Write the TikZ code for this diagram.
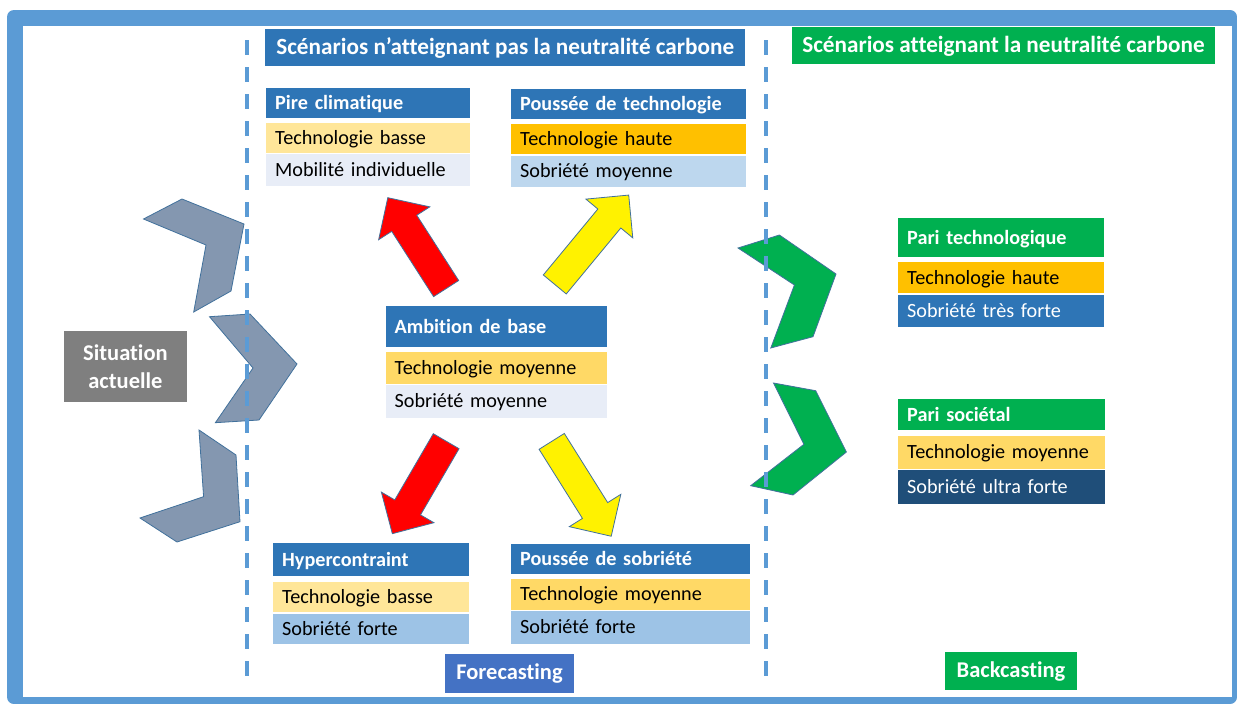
\documentclass[tikz,border=0pt]{standalone}
\usepackage{fontspec}
\setmainfont{Carlito}[Ligatures=NoCommon]
\usetikzlibrary{shapes.arrows}

\definecolor{cadre}{HTML}{5B9BD5}
\definecolor{bleu}{HTML}{2E75B6}
\definecolor{vert}{HTML}{00B050}
\definecolor{gris}{HTML}{7F7F7F}
\definecolor{grisbleu}{HTML}{8497B0}
\definecolor{contour}{HTML}{41719C}
\definecolor{forecast}{HTML}{4472C4}
\definecolor{jaunepale}{HTML}{FFE699}
\definecolor{jaune}{HTML}{FFD966}
\definecolor{ambre}{HTML}{FFC000}
\definecolor{bleupale}{HTML}{E8EDF7}
\definecolor{bleuclair}{HTML}{BDD7EE}
\definecolor{bleumoyen}{HTML}{9DC3E6}
\definecolor{bleufonce}{HTML}{1F4E79}

\newcommand{\policeTitre}{\fontsize{23.2}{27}\selectfont\bfseries}
\newcommand{\policeCase}{\fontsize{20.2}{24}\selectfont}
\newcommand{\policeGros}{\fontsize{22.5}{28.5}\selectfont\bfseries}

\tikzstyle{titre} = [rectangle, anchor=north west, fill=bleu, text=white, font=\policeTitre, inner sep=0pt, text height=19.5pt, text depth=5pt, text centered]
\tikzstyle{entete} = [rectangle, anchor=north west, fill=bleu, text=white, font=\policeCase\bfseries, inner xsep=9pt, inner ysep=3pt, text height=18pt, text depth=4.5pt, align=left]
\tikzstyle{ligne} = [rectangle, anchor=north west, font=\policeCase, inner xsep=9pt, inner ysep=3pt, text height=17.5pt, text depth=4.5pt, align=left]
\tikzstyle{etiquette} = [rectangle, text=white, font=\policeGros, align=center, inner sep=2pt]
\tikzstyle{fleche} = [single arrow, draw=contour, line width=0.8pt, inner xsep=0pt, inner ysep=14.5pt, single arrow head extend=15.5pt, minimum width=0pt]
\tikzstyle{chevron} = [line width=0.8pt, line join=miter]

\begin{document}
\begin{tikzpicture}[x=1pt, y=-1pt]
        \useasboundingbox (0,0) rectangle (1237,704);
        \fill[cadre, rounded corners=7pt] (7,10) rectangle (1237,704);
        \fill[white] (23,26) rectangle (1232,696.5);

        % chevrons
        \filldraw[chevron, fill=grisbleu, draw=contour] (143.5,219) -- (182,199) -- (244,224) -- (231,291) -- (193.7,312) -- (206,245) -- cycle;
        \filldraw[chevron, fill=grisbleu, draw=contour] (209.5,316.7) -- (250,314) -- (297,364) -- (259,420) -- (215.4,422.7) -- (253,368) -- cycle;
        \filldraw[chevron, fill=grisbleu, draw=contour] (199,430) -- (236,455) -- (240,521.7) -- (177,542) -- (140,518) -- (203.6,496.7) -- cycle;
        \filldraw[chevron, fill=vert, draw=contour] (738,248) -- (779.4,235) -- (836,274) -- (813,336.7) -- (770.8,348) -- (794.4,285) -- cycle;
        \filldraw[chevron, fill=vert, draw=contour] (773.5,383) -- (815.7,390.7) -- (846.4,452) -- (793,495) -- (750.7,485.7) -- (803.9,444.3) -- cycle;

        \draw[cadre, line width=3.5pt, dash pattern=on 15pt off 12pt] (247,40) -- (247,677);
        \draw[cadre, line width=3.5pt, dash pattern=on 15pt off 12pt] (766,40) -- (766,677);

        \node (t1) [titre, minimum width=480pt, minimum height=37.4pt] at (265,28.3) {Scénarios n’atteignant pas la neutralité carbone};
        \node (t2) [titre, fill=vert, minimum width=422.5pt, minimum height=36.6pt] at (792,26.7) {Scénarios atteignant la neutralité carbone};

        \node (sit) [etiquette, fill=gris, minimum width=122.7pt, minimum height=70.7pt] at (125.4,366.5) {Situation\\actuelle};
        \node (fore) [etiquette, fill=forecast, minimum width=129pt, minimum height=38.7pt] at (509.5,673.4) {Forecasting};
        \node (back) [etiquette, fill=vert, minimum width=131.5pt, minimum height=37.7pt] at (1011,671.2) {Backcasting};

        \node (p0) [entete, minimum height=29.6pt, text width=185.5pt] at (266,87.7) {Pire climatique};
        \node (p1) [ligne, fill=jaunepale, minimum height=30pt, text width=185.5pt] at (266,122.7) {Technologie basse};
        \node (p2) [ligne, fill=bleupale, minimum height=32.5pt, text width=185.5pt] at (266,153.5) {Mobilité individuelle};

        \node (pt0) [entete, minimum height=30.5pt, text width=217pt] at (511,88.5) {Poussée de technologie};
        \node (pt1) [ligne, fill=ambre, minimum height=30.7pt, text width=217pt] at (511,123.3) {Technologie haute};
        \node (pt2) [ligne, fill=bleuclair, minimum height=31pt, text width=217pt] at (511,155.5) {Sobriété moyenne};

        \node (a0) [entete, minimum height=41pt, text width=203.5pt] at (385.5,306) {Ambition de base};
        \node (a1) [ligne, fill=jaune, minimum height=31.6pt, text width=203.5pt] at (385.5,351.7) {Technologie moyenne};
        \node (a2) [ligne, fill=bleupale, minimum height=32.3pt, text width=203.5pt] at (385.5,385) {Sobriété moyenne};

        \node (h0) [entete, minimum height=33.3pt, text width=177.5pt] at (273,542.7) {Hypercontraint};
        \node (h1) [ligne, fill=jaunepale, minimum height=30pt, text width=177.5pt] at (273,581.7) {Technologie basse};
        \node (h2) [ligne, fill=bleumoyen, minimum height=30.5pt, text width=177.5pt] at (273,613.5) {Sobriété forte};

        \node (ps0) [entete, minimum height=30.7pt, text width=220.5pt] at (511,543.3) {Poussée de sobriété};
        \node (ps1) [ligne, fill=jaune, minimum height=31pt, text width=220.5pt] at (511,578.3) {Technologie moyenne};
        \node (ps2) [ligne, fill=bleumoyen, minimum height=32.5pt, text width=220.5pt] at (511,610.8) {Sobriété forte};

        \node (te0) [entete, fill=vert, minimum height=39.7pt, text width=188pt] at (898,217.3) {Pari technologique};
        \node (te1) [ligne, fill=ambre, minimum height=31pt, text width=188pt] at (898,262) {Technologie haute};
        \node (te2) [ligne, fill=bleu, text=white, minimum height=32pt, text width=188pt] at (898,295) {Sobriété très forte};

        \node (so0) [entete, fill=vert, minimum height=31.7pt, text width=189pt] at (898,398.3) {Pari sociétal};
        \node (so1) [ligne, fill=jaune, minimum height=32.6pt, text width=189pt] at (898,435.7) {Technologie moyenne};
        \node (so2) [ligne, fill=bleufonce, text=white, minimum height=34pt, text width=189pt] at (898,470) {Sobriété ultra forte};

        \node (f1) [fleche, fill=red, rotate=122.7, minimum height=108pt] at (421,249.4) {};
        \node (f2) [fleche, fill=yellow, rotate=50.4, minimum height=116pt] at (587,245.5) {};
        \node (f3) [fleche, fill=red, rotate=-120.2, minimum height=107pt] at (423,481) {};
        \node (f4) [fleche, fill=yellow, rotate=-57.9, minimum height=112pt] at (577.5,482.5) {};
    \end{tikzpicture}
\end{document}
